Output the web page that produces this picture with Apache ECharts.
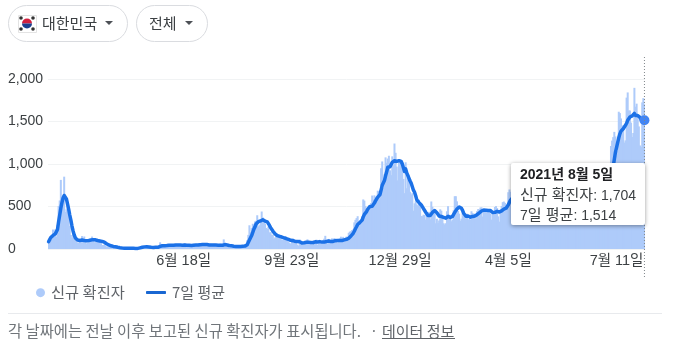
<!DOCTYPE html>
<html><head><meta charset="utf-8">
<style>html,body{margin:0;padding:0;background:#fff}#c{width:674px;height:355px}</style>
<script src="https://cdn.jsdelivr.net/npm/echarts@6/dist/echarts.min.js"></script>
</head><body><div id="c"></div>
<script>
const startDate = [2020, 1, 18];
const tickDates = ['2020년 6월 18일', '2020년 9월 23일', '2020년 12월 29일', '2021년 4월 5일', '2021년 7월 11일'];
const yTicks = { min: 0, max: 2000, interval: 500 };
const newCases2020 = [
70,80,95,110,229,169,231,144,284,505,571,813,
586,599,851,435,467,505,448,272,165,131,242,114,110,107,76,74,84,93,152,87,147,98,64,76,100,104,91,146,105,78,125,
101,89,86,94,81,47,47,53,39,27,30,32,25,27,27,22,22,18,8,13,9,11,8,6,10,10,10,14,9,4,
9,6,13,8,3,2,4,12,18,34,35,27,26,29,27,19,13,15,13,32,12,20,23,25,16,19,40,79,58,39,27,
35,38,49,39,39,51,57,38,38,50,45,56,49,37,34,43,59,49,67,48,17,46,51,28,39,51,62,42,43,51,
54,63,63,61,48,44,62,50,45,35,44,62,33,39,61,60,39,34,26,45,63,59,41,113,58,25,28,48,18,36,31,
30,23,34,33,20,43,20,43,36,28,34,54,56,103,166,279,197,246,297,288,324,332,397,266,280,320,441,371,323,299,248,
235,267,195,198,168,167,119,136,156,155,176,136,121,109,106,113,153,126,110,82,70,61,110,125,114,61,95,50,38,113,
77,63,75,64,73,75,114,69,54,72,58,98,102,84,110,47,73,91,76,58,91,121,155,77,61,119,88,103,125,114,127,
124,97,75,118,125,145,89,143,126,100,146,143,191,205,208,223,230,313,343,363,386,330,271,349,382,583,569,504,450,438,
451,511,540,629,583,631,615,594,686,682,689,950,1030,718,880,1078,1014,1064,1097,926,869,1090,985,1241,1132,970,807,1045,1050,967,1028];
const newCases2021 = [
824,657,1020,715,838,869,674,641,657,451,537,562,524,512,580,520,389,386,404,400,346,431,392,437,349,559,497,469,458,303,355,
305,336,467,451,393,303,288,303,444,504,403,362,326,343,457,621,621,561,448,416,332,357,440,396,406,355,415,344,
355,344,444,424,398,416,355,446,470,465,488,490,382,463,469,445,468,445,456,415,346,428,430,494,505,482,384,322,447,506,551,
558,543,477,473,668,700,671,677,614,587,542,731,698,731,673,658,532,549,731,735,797,785,644,499,512,769,680,661,627,606,
488,541,676,574,525,701,525,463,564,511,635,715,747,681,610,619,528,654,646,561,666,585,430,530,707,629,587,533,480,430,459,
681,677,613,744,556,485,454,602,610,556,565,452,399,529,545,540,507,482,429,357,645,610,634,614,668,482,501,595,794,761,
826,794,743,711,746,1212,1275,1316,1378,1324,1100,1150,1615,1599,1536,1452,1454,1252,1278,1781,1842,1630,1629,1487,1318,1365,1896,1674,1710,1539,1442,
1218,1200,1725,1775,1704];
const average2020 = [
85,110,135,150,160,170,178,190,230,320,400,480,
545,600,630,625,590,530,470,400,340,270,210,165,130,115,105,100,100,102,105,103,100,98,97,98,100,103,105,108,110,112,108,
105,100,100,95,95,90,85,80,70,62,55,48,42,38,33,30,28,26,22,20,17,15,14,12,10,10,10,10,10,9,
8,8,9,8,8,7,7,7,8,13,17,20,22,25,27,27,26,24,22,20,19,18,19,20,20,20,23,30,36,38,38,
38,38,40,42,43,45,45,42,43,45,47,48,48,48,47,46,45,47,48,48,44,44,45,45,42,42,44,44,46,46,
46,49,51,52,53,53,54,54,52,49,48,48,46,45,47,49,46,46,44,44,44,44,44,50,52,49,47,46,42,42,38,
34,33,32,30,29,29,29,30,31,32,33,34,37,49,67,105,127,158,195,234,260,295,312,321,326,330,337,344,343,329,326,
320,312,277,252,230,211,193,179,163,157,154,149,143,141,137,131,131,123,120,114,109,102,102,98,96,89,91,88,85,85,
79,72,74,73,75,79,80,79,79,77,76,75,79,84,89,82,84,87,82,81,79,81,88,88,86,94,84,89,92,89,93,
98,96,100,97,99,103,100,103,107,110,114,117,127,144,153,166,185,209,238,262,288,306,313,330,340,378,407,423,440,468,
482,501,495,503,515,540,566,586,611,631,640,692,749,764,805,861,908,962,983,968,990,1020,1006,1039,1049,1030,1013,1039,1033,1030,1000];
const average2021 = [
956,911,942,894,864,850,800,773,773,692,667,627,578,555,546,527,518,496,474,456,432,411,393,399,394,416,430,448,452,439,427,
421,389,385,382,373,373,363,363,378,384,377,372,376,384,406,431,448,470,482,495,494,479,454,421,399,386,386,388,
387,374,380,383,389,389,391,404,422,425,434,447,442,458,461,457,458,452,447,452,435,429,427,431,439,443,438,435,438,449,457,
470,475,480,490,520,550,575,590,605,620,630,640,645,650,660,665,665,660,665,670,680,690,690,695,690,690,680,665,660,650,
650,640,620,600,590,590,590,570,575,570,580,590,610,620,620,630,630,630,630,615,620,620,600,600,600,590,590,580,570,550,550,
550,555,560,600,600,600,600,600,590,580,575,570,560,550,540,535,530,525,520,510,525,540,550,539,565,573,593,586,613,631,
661,679,716,746,768,828,901,971,1054,1137,1193,1251,1308,1355,1386,1397,1415,1437,1455,1479,1514,1527,1552,1557,1566,1579,1595,1571,1583,1570,1563,
1549,1526,1501,1516,1514];

const newCases = newCases2020.concat(newCases2021);
const average = average2020.concat(average2021);
const fmtNum = v => v.toLocaleString('en-US');
const categories = newCases.map((_, i) => {
  const d = new Date(startDate[0], startDate[1], startDate[2] + i);
  return d.getFullYear() + '년 ' + (d.getMonth() + 1) + '월 ' + d.getDate() + '일';
});
const shortLabel = c => c.replace(/^\d+년 /, '');

const FONT = '"Liberation Sans","Noto Sans CJK KR",sans-serif';
const KFONT = '"Noto Sans CJK KR","Liberation Sans",sans-serif';
const chart = echarts.init(document.getElementById('c'), null, { renderer: 'canvas' });

function label(x, y, text, size, color, extra) {
  return { type: 'text', x, y, silent: true, style: Object.assign({ text, font: size + 'px ' + KFONT, fill: color, textVerticalAlign: 'middle' }, extra || {}) };
}
function pill(x, y, w, h) {
  return { type: 'rect', silent: true, shape: { x: x + .5, y: y + .5, width: w, height: h, r: h / 2 }, style: { fill: '#fff', stroke: '#dadce0', lineWidth: 1 } };
}
function caret(x, y) {
  return { type: 'polygon', silent: true, shape: { points: [[x, y], [x + 8, y], [x + 4, y + 4]] }, style: { fill: '#4d5156' } };
}
function flag() {
  const cx = 27, cy = 23.5, out = [];
  out.push({ type: 'rect', silent: true, shape: { x: 18.5, y: 15.5, width: 18, height: 17 }, style: { fill: '#fff', stroke: '#e3e3e3', lineWidth: 1 } });
  out.push({ type: 'sector', silent: true, shape: { cx, cy, r: 5, startAngle: Math.PI, endAngle: 2 * Math.PI }, style: { fill: '#d1213f' } });
  out.push({ type: 'sector', silent: true, shape: { cx, cy, r: 5, startAngle: 0, endAngle: Math.PI }, style: { fill: '#1b3f8f' } });
  [[21, 18], [33, 18], [21, 29], [33, 29]].forEach(p => out.push({ type: 'circle', silent: true, shape: { cx: p[0], cy: p[1], r: 1.8 }, style: { fill: '#333' } }));
  return out;
}
const korSpan = s => '<span style="font-size:15px">' + s + '</span>';

chart.setOption({
  animation: false,
  backgroundColor: '#fff',
  textStyle: { fontFamily: FONT },
  grid: { left: 48, right: 29, top: 79, bottom: 106, containLabel: false },
  legend: [
    { data: ['신규 확진자'], left: 36, top: 285, icon: 'circle', itemWidth: 9, itemHeight: 9, itemGap: 0, selectedMode: false, padding: 0,
      textStyle: { fontFamily: KFONT, fontSize: 15.3, color: '#5f6368', padding: [0, 0, 0, 1] } },
    { data: ['7일 평균'], left: 146, top: 285, icon: 'roundRect', itemWidth: 20, itemHeight: 3, selectedMode: false, padding: 0,
      textStyle: { fontFamily: KFONT, fontSize: 15, color: '#5f6368', padding: [0, 0, 0, 1] } }
  ],
  tooltip: {
    trigger: 'axis', alwaysShowContent: true, transitionDuration: 0, showDelay: 0, hideDelay: 0,
    axisPointer: { type: 'none' },
    backgroundColor: '#fff', borderWidth: 0, padding: 0,
    position: [511, 163],
    extraCssText: 'box-shadow:0 1px 4px rgba(0,0,0,.4);border-radius:2px;',
    formatter: ps => {
      const i = ps[0].dataIndex;
      return '<div style="width:125px;height:56px;padding:2px 0 4px 9px;font:14px/19.5px ' + FONT.replace(/"/g, "'") + ';color:#3c4043;white-space:nowrap">' +
        '<b style="color:#202124">' + categories[i] + '</b><br>' + korSpan('신규 확진자') + ': ' + fmtNum(newCases[i]) + '<br>7' + korSpan('일 평균') + ': ' + fmtNum(average[i]) + '</div>';
    }
  },
  xAxis: {
    type: 'category', data: categories, boundaryGap: true,
    axisLine: { show: false }, axisTick: { show: false }, splitLine: { show: false },
    axisLabel: {
      interval: (i, c) => tickDates.includes(c),
      formatter: shortLabel, hideOverlap: false, margin: 5,
      fontFamily: FONT, fontSize: 14.5, color: '#3c4043'
    }
  },
  yAxis: {
    type: 'value', min: yTicks.min, max: yTicks.max, interval: yTicks.interval,
    axisLine: { show: false }, axisTick: { show: false },
    splitLine: { lineStyle: { color: '#f1f3f4', width: 1 } },
    axisLabel: { align: 'left', margin: 40, fontFamily: FONT, fontSize: 14, color: '#3c4043', formatter: fmtNum }
  },
  series: [
    { name: '신규 확진자', type: 'bar', data: newCases, barWidth: 2, barGap: '-100%',
      itemStyle: { color: '#aecbfa' }, emphasis: { disabled: true } },
    { name: '7일 평균', type: 'line', data: average, smooth: false, symbol: 'circle', symbolSize: 10, showSymbol: false,
      lineStyle: { color: '#1967d2', width: 3.5, cap: 'round', join: 'round' }, itemStyle: { color: '#1967d2' },
      emphasis: { scale: false, lineStyle: { width: 3.5 }, itemStyle: { color: '#4285f4', borderWidth: 0 } } }
  ]
});

const last = categories.length - 1;
const px = chart.convertToPixel({ xAxisIndex: 0 }, last);
chart.setOption({
  graphic: { elements: [
    pill(8, 5, 119, 36), pill(136, 5, 71, 36),
    ...flag(),
    label(42, 23, '대한민국', 15, '#3c4043'), caret(105, 21),
    label(149, 23, '전체', 15, '#3c4043'), caret(185, 21),
    { type: 'line', silent: true, z: 5, shape: { x1: px, y1: 57, x2: px, y2: 278 }, style: { stroke: '#80868b', lineWidth: 1, lineDash: [1, 2] } },
    { type: 'line', silent: true, shape: { x1: 8, y1: 313.5, x2: 662, y2: 313.5 }, style: { stroke: '#e8eaed', lineWidth: 1 } },
    label(8, 331, '각 날짜에는 전날 이후 보고된 신규 확진자가 표시됩니다.', 15.35, '#70757a'),
    label(370, 331, '·', 14, '#70757a'),
    label(382, 331, '데이터 정보', 15, '#5f6368'),
    { type: 'line', silent: true, shape: { x1: 382, y1: 338.5, x2: 455, y2: 338.5 }, style: { stroke: '#5f6368', lineWidth: 1 } }
  ] }
});
chart.dispatchAction({ type: 'showTip', seriesIndex: 1, dataIndex: last });
</script></body></html>
